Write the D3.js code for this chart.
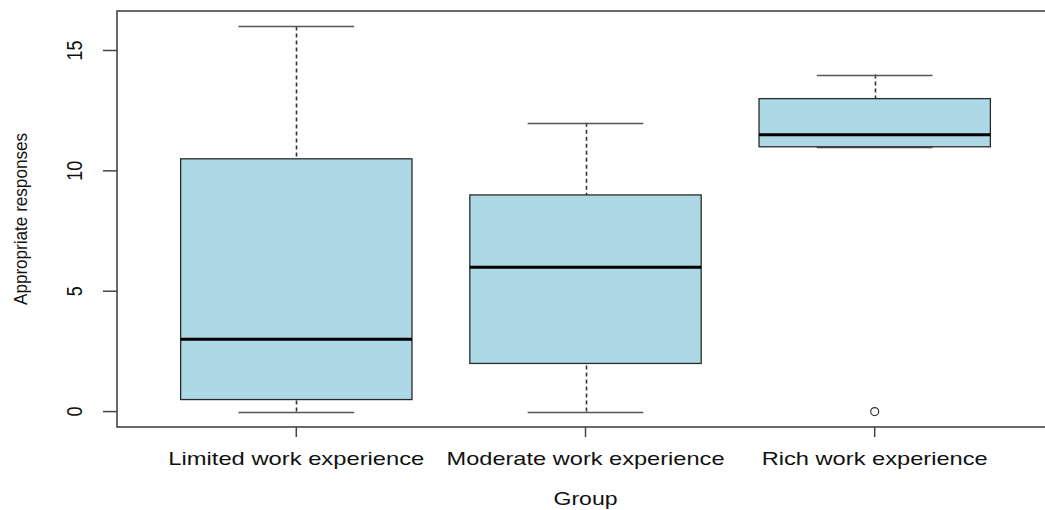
<!DOCTYPE html>
<html>
<head>
<meta charset="utf-8">
<script src="https://cdn.jsdelivr.net/npm/d3@7"></script>
<style>
html,body{margin:0;padding:0;background:#fff;}
svg{display:block;}
text{font-family:"Liberation Sans",Arial,sans-serif;fill:#111;}
</style>
</head>
<body>
<svg id="chart" width="1045" height="510"></svg>
<script>
const categories = ["Limited work experience", "Moderate work experience", "Rich work experience"];
const whiskerLow = [0, 0, 11];
const q1 = [0.5, 2, 11];
const medians = [3, 6, 11.5];
const q3 = [10.5, 9, 13];
const whiskerHigh = [16, 12, 14];
const outliers = [[], [], [0]];
const yTicks = [0, 5, 10, 15];
const labelWidths = [256, 278, 226];

const svg = d3.select("#chart");
const x = d3.scaleLinear().domain([0.38, 3.62]).range([117, 1054]);
const y = d3.scaleLinear().domain([-0.64, 16.64]).range([427, 11]);

const data = categories.map((c, i) => ({
  c, i, pos: i + 1, lo: whiskerLow[i], q1: q1[i], med: medians[i], q3: q3[i], hi: whiskerHigh[i], out: outliers[i]
}));

const g = svg.append("g");
data.forEach(d => {
  const cx = Math.round(x(d.pos)) + 0.5;
  [[d.hi, d.q3], [d.lo, d.q1]].forEach(([a, b]) => {
    if (Math.abs(y(a) - y(b)) > 0.5) {
      g.append("line").attr("x1", cx).attr("x2", cx).attr("y1", y(a)).attr("y2", y(b))
        .attr("stroke", "#333").attr("stroke-width", 1.6).attr("stroke-dasharray", "4,3");
    }
  });
  [d.hi, d.lo].forEach(v => {
    g.append("line").attr("x1", x(d.pos - 0.2)).attr("x2", x(d.pos + 0.2))
      .attr("y1", Math.round(y(v)) + 0.5).attr("y2", Math.round(y(v)) + 0.5)
      .attr("stroke", "#555").attr("stroke-width", 1.6);
  });
  g.append("rect").attr("x", x(d.pos - 0.4)).attr("width", x(d.pos + 0.4) - x(d.pos - 0.4))
    .attr("y", y(d.q3)).attr("height", y(d.q1) - y(d.q3))
    .attr("fill", "#ADD8E6").attr("stroke", "#2a2a2a").attr("stroke-width", 1.3);
  g.append("line").attr("x1", x(d.pos - 0.4)).attr("x2", x(d.pos + 0.4))
    .attr("y1", y(d.med)).attr("y2", y(d.med))
    .attr("stroke", "#000").attr("stroke-width", 3);
  d.out.forEach(v => {
    g.append("circle").attr("cx", x(d.pos)).attr("cy", y(v)).attr("r", 4)
      .attr("fill", "none").attr("stroke", "#333").attr("stroke-width", 1.2);
  });
});

svg.append("rect").attr("x", 117).attr("y", 11).attr("width", 1054 - 117).attr("height", 427 - 11)
  .attr("fill", "none").attr("stroke", "#444").attr("stroke-width", 1.6);

const yAxis = svg.append("g");
yTicks.forEach(t => {
  yAxis.append("line").attr("x1", 103).attr("x2", 117).attr("y1", y(t)).attr("y2", y(t))
    .attr("stroke", "#444").attr("stroke-width", 1.5);
  yAxis.append("text").attr("transform", `translate(82,${y(t)}) rotate(-90)`)
    .attr("text-anchor", "middle").attr("font-size", 22)
    .attr("textLength", String(t).length * 10).attr("lengthAdjust", "spacingAndGlyphs")
    .text(t);
});

data.forEach(d => {
  svg.append("line").attr("x1", x(d.pos)).attr("x2", x(d.pos)).attr("y1", 427).attr("y2", 437)
    .attr("stroke", "#444").attr("stroke-width", 1.5);
  svg.append("text").attr("x", x(d.pos)).attr("y", 465).attr("text-anchor", "middle")
    .attr("font-size", 19).attr("textLength", labelWidths[d.i]).attr("lengthAdjust", "spacingAndGlyphs")
    .text(d.c);
});

svg.append("text").attr("x", x(2)).attr("y", 505).attr("text-anchor", "middle")
  .attr("font-size", 18).attr("textLength", 64).attr("lengthAdjust", "spacingAndGlyphs").text("Group");

svg.append("text").attr("transform", `translate(27,219) rotate(-90)`).attr("text-anchor", "middle")
  .attr("font-size", 19).attr("textLength", 172).attr("lengthAdjust", "spacingAndGlyphs")
  .text("Appropriate responses");
</script>
</body>
</html>
